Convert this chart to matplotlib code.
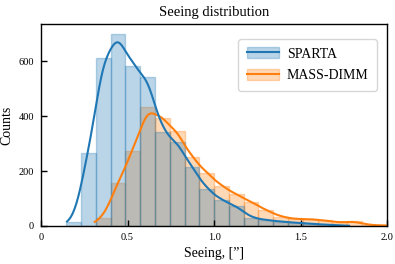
import matplotlib
matplotlib.use("Agg")
import matplotlib.pyplot as plt
import numpy as np
from matplotlib.patches import Patch
from matplotlib.lines import Line2D

plt.rcParams['font.family'] = ['Liberation Serif', 'DejaVu Serif']

# common bin edges (width ~0.0855)
bin_start, bin_width, n_bins = 0.145, 0.0855, 23
edges = bin_start + bin_width * np.arange(n_bins + 1)

sparta_counts = [15, 264, 612, 700, 584, 541, 343, 305, 214, 136, 94, 73,
                 30, 22, 16, 12, 8, 5, 2, 0, 0, 0, 0]
massdimm_counts = [0, 0, 28, 158, 273, 434, 393, 344, 250, 194, 146, 115,
                   88, 58, 34, 25, 25, 20, 12, 17, 3, 2, 0]
sparta_range = (0.15, 1.78)
massdimm_range = (0.31, 2.05)

labels = ['SPARTA', 'MASS-DIMM']
colors = ['#1f77b4', '#ff7f0e']
alpha = 0.3


def kde_curve(counts, lo, hi, bw=0.05):
    centers = (edges[:-1] + edges[1:]) / 2
    w = np.asarray(counts, float)
    xs = np.linspace(lo, hi, 300)
    dens = (w[None, :] * np.exp(-0.5 * ((xs[:, None] - centers[None, :]) / bw) ** 2)).sum(1)
    dens /= (bw * np.sqrt(2 * np.pi))
    return xs, dens * bin_width


fig, ax = plt.subplots(figsize=(3.95, 2.64), dpi=100)
fig.subplots_adjust(left=0.104, right=0.98, bottom=0.144, top=0.909)

# orange first, blue on top (seaborn draws hue levels reversed)
series = [(massdimm_counts, massdimm_range, colors[1]),
          (sparta_counts, sparta_range, colors[0])]
for counts, rng, c in series:
    ax.bar(edges[:-1], counts, width=bin_width, align='edge', color=c,
           edgecolor=c, alpha=alpha, linewidth=1)
    xs, ys = kde_curve(counts, *rng)
    ax.plot(xs, ys, color=c, lw=1.5)

ax.set_xlim(0, 2.0)
ax.set_ylim(0, 735)
ax.set_xticks([0, 0.5, 1.0, 1.5, 2.0])
ax.set_xticklabels(['0', '0.5', '1.0', '1.5', '2.0'])
ax.set_yticks([0, 200, 400, 600])
ax.tick_params(direction='in', labelsize=7.5, length=4, width=1, pad=5)
for s in ax.spines.values():
    s.set_linewidth(1)
    s.set_color('black')

ax.set_title('Seeing distribution', fontsize=10.5)
ax.set_xlabel('Seeing, [\u201d]', fontsize=10)
ax.set_ylabel('Counts', fontsize=10)

handles = [(Patch(facecolor=c, edgecolor=c, alpha=alpha),
            Line2D([], [], color=c, lw=1.5)) for c in colors]
ax.legend(handles, labels, loc='upper right', bbox_to_anchor=(0.971, 0.926),
          borderaxespad=0, fontsize=10, handlelength=2.3, handleheight=0.85,
          handletextpad=0.6, labelspacing=0.6, borderpad=0.6,
          framealpha=0.8, edgecolor='#cccccc')

fig.savefig('out.png', dpi=100)
